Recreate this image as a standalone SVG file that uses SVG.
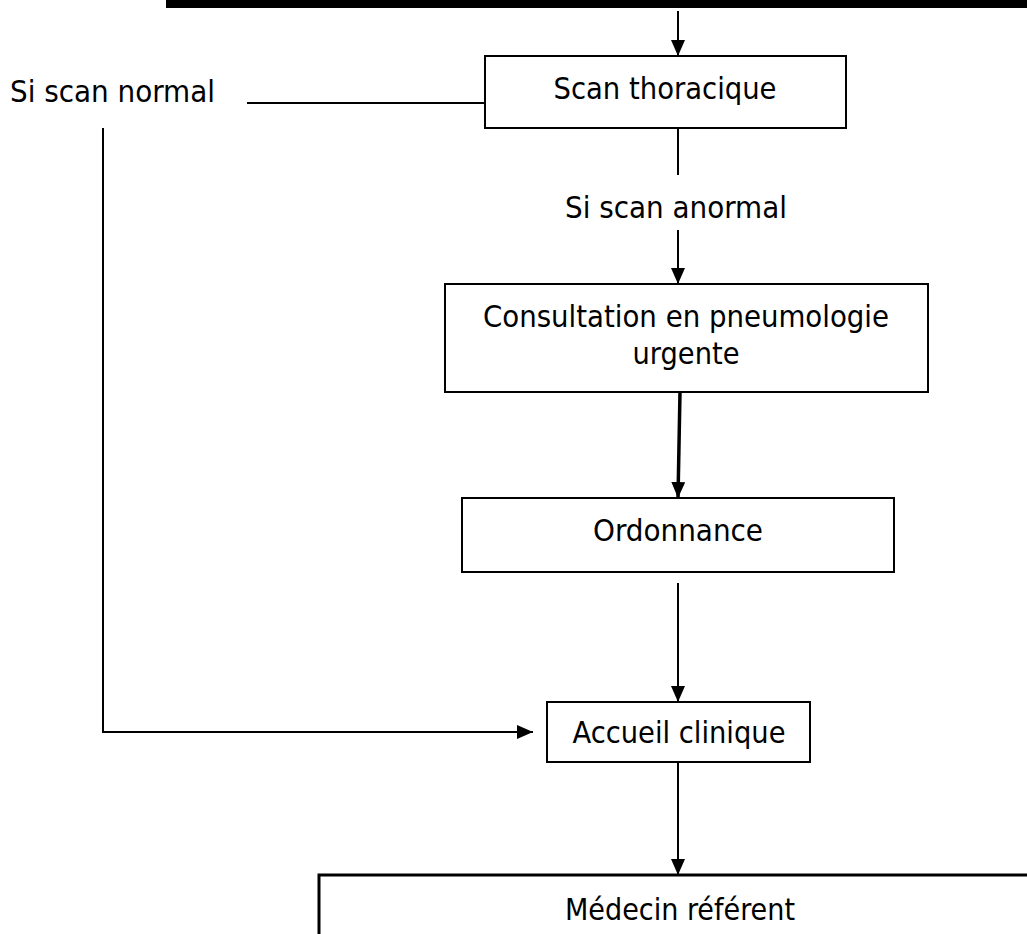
<svg xmlns="http://www.w3.org/2000/svg" width="1027" height="934" viewBox="0 0 1027 934">
  <style>
    .box { fill: #ffffff; stroke: #000000; stroke-width: 2; }
    .lbl { font-family: "DejaVu Sans Condensed", "DejaVu Sans", Verdana, sans-serif; font-size: 30px; fill: #000000; }
    .mid { text-anchor: middle; }
    .wire { fill: none; stroke: #000000; stroke-width: 2; }
    .thick { fill: none; stroke: #000000; stroke-width: 3.5; }
  </style>
  <defs>
    <marker id="arrow" viewBox="0 0 16 14" refX="16" refY="7" markerWidth="16" markerHeight="14" markerUnits="userSpaceOnUse" orient="auto">
      <path d="M0,0 L16,7 L0,14 Z" fill="#000000"/>
    </marker>
  </defs>

  <rect x="0" y="0" width="1027" height="934" fill="#ffffff"/>

  <!-- heavy rule across the top -->
  <rect id="top-bar" x="166" y="0" width="861" height="8" fill="#000000"/>

  <g id="connectors">
    <line class="wire" x1="678" y1="11" x2="678" y2="56" marker-end="url(#arrow)"/>
    <line class="wire" x1="247" y1="103" x2="485" y2="103"/>
    <polyline class="wire" points="103,128 103,732 533,732" marker-end="url(#arrow)"/>
    <line class="wire" x1="678" y1="128" x2="678" y2="175"/>
    <line class="wire" x1="678" y1="230" x2="678" y2="284" marker-end="url(#arrow)"/>
    <line class="thick" x1="680" y1="392" x2="678" y2="498" marker-end="url(#arrow)"/>
    <line class="wire" x1="678" y1="583" x2="678" y2="702" marker-end="url(#arrow)"/>
    <line class="wire" x1="678" y1="762" x2="678" y2="875" marker-end="url(#arrow)"/>
  </g>

  <g id="label-normal">
    <text class="lbl" x="10" y="102" textLength="205" lengthAdjust="spacingAndGlyphs">Si scan normal</text>
  </g>

  <g id="label-anormal">
    <text class="lbl mid" x="676" y="218" textLength="222" lengthAdjust="spacingAndGlyphs">Si scan anormal</text>
  </g>

  <g id="node-scan">
    <rect class="box" x="485" y="56" width="361" height="72"/>
    <text class="lbl mid" x="665" y="99" textLength="223" lengthAdjust="spacingAndGlyphs">Scan thoracique</text>
  </g>

  <g id="node-consultation">
    <rect class="box" x="445" y="284" width="483" height="108"/>
    <text class="lbl mid" x="686" y="327" textLength="406" lengthAdjust="spacingAndGlyphs">Consultation en pneumologie</text>
    <text class="lbl mid" x="686" y="364" textLength="107" lengthAdjust="spacingAndGlyphs">urgente</text>
  </g>

  <g id="node-ordonnance">
    <rect class="box" x="462" y="498" width="432" height="74"/>
    <text class="lbl mid" x="678" y="541" textLength="170" lengthAdjust="spacingAndGlyphs">Ordonnance</text>
  </g>

  <g id="node-accueil">
    <rect class="box" x="547" y="702" width="263" height="60"/>
    <text class="lbl mid" x="679" y="743" textLength="213" lengthAdjust="spacingAndGlyphs">Accueil clinique</text>
  </g>

  <g id="node-medecin">
    <rect x="319" y="875" width="740" height="100" fill="#ffffff" stroke="#000000" stroke-width="3"/>
    <text class="lbl mid" x="680" y="920" textLength="230" lengthAdjust="spacingAndGlyphs">Médecin référent</text>
  </g>
</svg>
